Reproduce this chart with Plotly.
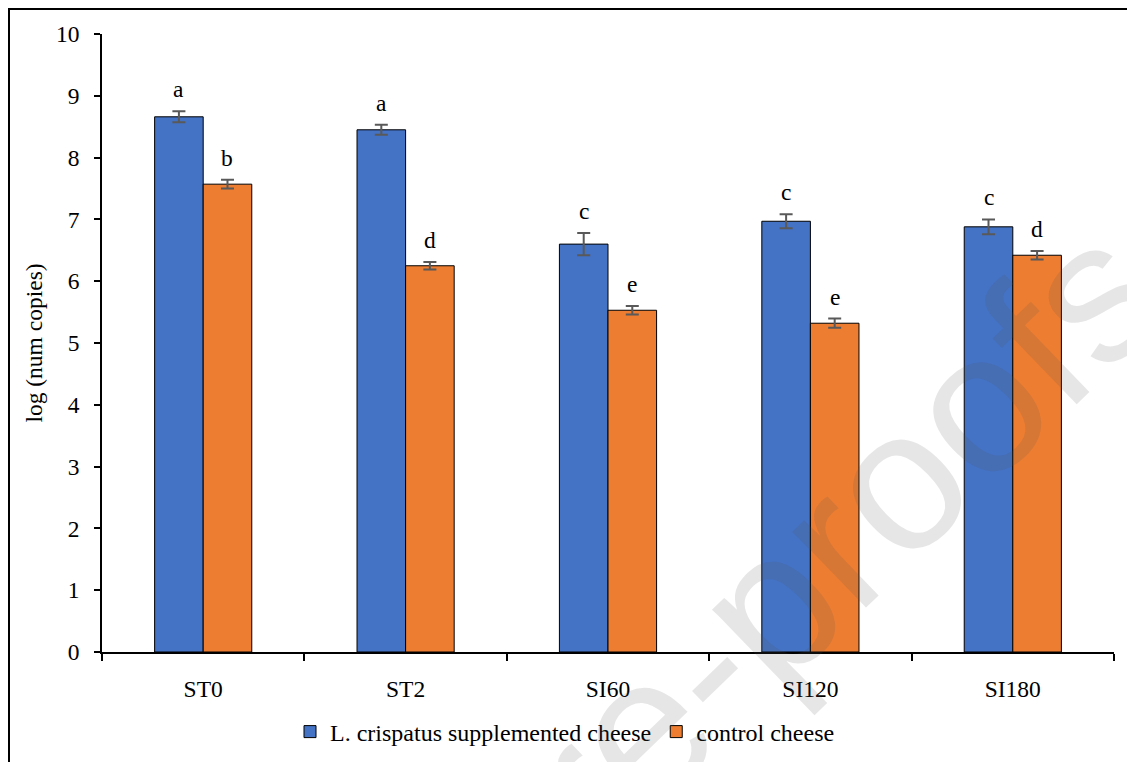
import plotly.graph_objects as go

categories = ["ST0", "ST2", "SI60", "SI120", "SI180"]
supplemented = [8.66, 8.45, 6.60, 6.97, 6.88]
supplemented_err = [0.09, 0.08, 0.18, 0.115, 0.12]
supplemented_letters = ["a", "a", "c", "c", "c"]
control = [7.57, 6.25, 5.53, 5.32, 6.42]
control_err = [0.07, 0.06, 0.07, 0.075, 0.07]
control_letters = ["b", "d", "e", "e", "d"]

FONT = "Liberation Serif, Times New Roman, serif"
FS = 23.5
# page body has an 8px margin, so the figure is laid out 8px smaller
OFF = 8
W, H = 1135 - OFF, 762 - OFF
L, T = 102 - OFF, 34 - OFF
pw, ph = 1012, 618
R, B = W - L - pw, H - T - ph


def px(x):  # reference pixel x -> paper
    return (x - OFF - L) / pw


def py(y):  # reference pixel y -> paper
    return (T + ph - (y - OFF)) / ph


fig = go.Figure()
fig.add_trace(go.Bar(
    x=categories, y=supplemented, name="L. crispatus supplemented cheese",
    marker=dict(color="#4472C4", line=dict(color="black", width=1)),
    error_y=dict(type="data", array=supplemented_err, color="#595959", thickness=2, width=6.5),
    width=0.24, offset=-0.24,
))
fig.add_trace(go.Bar(
    x=categories, y=control, name="control cheese",
    marker=dict(color="#ED7D31", line=dict(color="black", width=1)),
    error_y=dict(type="data", array=control_err, color="#595959", thickness=2, width=6.5),
    width=0.24, offset=0,
))

px_per_cat = pw / len(categories)
for vals, errs, letters, sgn in [(supplemented, supplemented_err, supplemented_letters, -1),
                                  (control, control_err, control_letters, 1)]:
    for c, v, e, t in zip(categories, vals, errs, letters):
        fig.add_annotation(x=c, y=v + e, text=t, showarrow=False, xref="x", yref="y",
                           xshift=sgn * 0.12 * px_per_cat, yanchor="bottom", yshift=7,
                           font=dict(family=FONT, size=FS, color="black"))

# watermark
fig.add_annotation(x=px(535), y=py(830), xref="paper", yref="paper",
                   xanchor="center", yanchor="middle",
                   text="Journal Pre-proofs", showarrow=False, textangle=-44,
                   font=dict(family="Liberation Sans, Arial, sans-serif", size=200,
                             color="rgba(90,90,90,0.15)"))

# outer frame
fig.add_shape(type="rect", xref="paper", yref="paper",
              x0=px(9), x1=px(1150), y0=py(780), y1=py(9),
              line=dict(color="black", width=2), fillcolor="rgba(0,0,0,0)", layer="below")

fig.update_layout(
    width=W, height=H, margin=dict(l=L, r=R, t=T, b=B, autoexpand=False),
    paper_bgcolor="white", plot_bgcolor="white",
    barmode="overlay",
    font=dict(family=FONT, size=FS, color="black"),
    showlegend=True,
    legend=dict(orientation="h", x=px(290), xanchor="left",
                y=py(732), yanchor="middle",
                font=dict(family=FONT, size=24), traceorder="normal",
                itemwidth=30),
    xaxis=dict(type="category", showline=True, linecolor="black", linewidth=1.5,
               ticks="outside", tickson="boundaries", ticklen=7, tickwidth=1.5,
               tickcolor="black", showgrid=False, ticklabelstandoff=15,
               tickfont=dict(family=FONT, size=FS)),
    yaxis=dict(range=[0, 10], dtick=1, showline=True, linecolor="black", linewidth=1.5,
               ticks="outside", ticklen=6, tickwidth=1.5, tickcolor="black",
               showgrid=False, zeroline=False, ticklabelstandoff=10,
               tickfont=dict(family=FONT, size=FS),
               title=dict(text="log (num copies)", font=dict(family=FONT, size=FS), standoff=7)),
)

fig.write_html("out.html")
